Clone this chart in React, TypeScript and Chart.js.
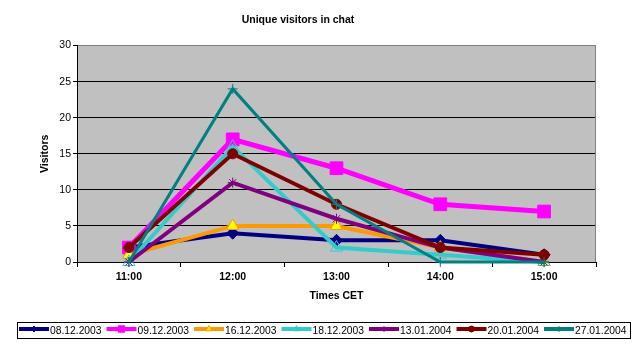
import React, { useEffect, useRef } from 'react';
import { Chart, registerables } from 'chart.js';
import { drawPoint } from 'chart.js/helpers';

Chart.register(...registerables);

const FONT = 'Arial, "Liberation Sans", sans-serif';

const categories = ['11:00', '12:00', '13:00', '14:00', '15:00'];
const yTicks = [0, 5, 10, 15, 20, 25, 30];

const seriesNames = ['08.12.2003', '09.12.2003', '16.12.2003', '18.12.2003', '13.01.2004', '20.01.2004', '27.01.2004'];
const v08122003 = [2, 4, 3, 3, 1];
const v09122003 = [2, 17, 13, 8, 7];
const v16122003 = [1, 5, 5, 2, 0];
const v18122003 = [0, 16, 2, 1, 0];
const v13012004 = [0, 11, 6, 2, 0];
const v20012004 = [2, 15, 8, 2, 1];
const v27012004 = [0, 24, 8, 0, 0];

const seriesValues = [v08122003, v09122003, v16122003, v18122003, v13012004, v20012004, v27012004];

const styles = [
  { line: '#000080', fill: '#000080', edge: '#000080', shape: 'rectRot', r: 6, w: 4 },
  { line: '#FF00FF', fill: '#FF00FF', edge: '#FF00FF', shape: 'rect', r: 9, w: 5 },
  { line: '#FF9900', fill: '#FFFF00', edge: '#FF9900', shape: 'triangle', r: 7, w: 4 },
  { line: '#33CCCC', fill: 'rgba(0,0,0,0)', edge: '#33CCCC', shape: 'triangle', r: 7, w: 4 },
  { line: '#800080', fill: '#800080', edge: '#800080', shape: 'star', r: 5, w: 4 },
  { line: '#800000', fill: '#800000', edge: '#800000', shape: 'circle', r: 5, w: 4 },
  { line: '#008080', fill: '#008080', edge: '#008080', shape: 'cross', r: 5, w: 3 },
];

const plotBgPlugin = {
  id: 'plotBg',
  beforeDraw(chart: any) {
    const { ctx, chartArea } = chart;
    ctx.save();
    ctx.fillStyle = '#C0C0C0';
    ctx.fillRect(chartArea.left, chartArea.top, chartArea.right - chartArea.left, chartArea.bottom - chartArea.top);
    ctx.restore();
  },
  beforeDatasetsDraw(chart: any) {
    const { ctx, chartArea } = chart;
    ctx.save();
    ctx.strokeStyle = '#808080';
    ctx.lineWidth = 1;
    ctx.beginPath();
    ctx.moveTo(Math.round(chartArea.right) - 0.5, chartArea.top);
    ctx.lineTo(Math.round(chartArea.right) - 0.5, chartArea.bottom);
    ctx.stroke();
    ctx.restore();
  },
};

const legendPlugin = {
  id: 'excelLegend',
  afterDraw(chart: any) {
    const ctx = chart.ctx;
    ctx.save();
    ctx.strokeStyle = '#000';
    ctx.lineWidth = 1;
    ctx.strokeRect(17.5, 322.5, 613, 16);
    chart.data.datasets.forEach((ds: any, i: number) => {
      const st = styles[i];
      const x0 = 19 + i * 87.5;
      const y = 329;
      ctx.strokeStyle = st.line;
      ctx.lineWidth = 4;
      ctx.beginPath();
      ctx.moveTo(x0, y);
      ctx.lineTo(x0 + 30, y);
      ctx.stroke();
      ctx.fillStyle = st.fill;
      ctx.strokeStyle = st.edge;
      ctx.lineWidth = 1;
      drawPoint(ctx, { pointStyle: st.shape, radius: Math.max(3, st.r * 0.5), rotation: 0, borderWidth: 1 } as any, x0 + 15, y);
      ctx.fillStyle = '#000';
      ctx.font = '10.3px ' + FONT;
      ctx.textBaseline = 'middle';
      ctx.textAlign = 'left';
      ctx.fillText(ds.label, x0 + 31, 331);
    });
    ctx.restore();
  },
};

export default function App() {
  const ref = useRef<HTMLCanvasElement>(null);
  useEffect(() => {
    document.body.style.margin = '0';
    const datasets = seriesNames.map((name, i) => {
      const st = styles[i];
      return {
        label: name,
        data: seriesValues[i],
        borderColor: st.line,
        backgroundColor: st.fill,
        borderWidth: st.w,
        pointStyle: st.shape,
        pointRadius: st.r,
        pointBackgroundColor: st.fill,
        pointBorderColor: st.edge,
        pointBorderWidth: 1,
        tension: 0,
        fill: false,
        clip: false,
        order: seriesNames.length - i,
      };
    });
    const chart = new Chart(ref.current!, {
      type: 'line',
      data: { labels: categories, datasets: datasets as any },
      options: {
        responsive: false,
        animation: false,
        devicePixelRatio: 1,
        layout: { padding: { left: 0, right: 40, top: 0, bottom: 46 } },
        plugins: {
          legend: { display: false },
          tooltip: { enabled: false },
          title: {
            display: true,
            text: 'Unique visitors in chat',
            color: '#000',
            font: { family: FONT, size: 10.5, weight: 'bold' },
            padding: { top: 14, bottom: 19 },
          },
        },
        scales: {
          x: {
            offset: true,
            ticks: { color: '#000', font: { family: FONT, size: 10.5, weight: 'bold' }, padding: 4 },
            grid: { offset: true, drawOnChartArea: false, drawTicks: true, tickLength: 5, color: '#000' },
            border: { color: '#000', width: 1 },
            title: {
              display: true,
              text: 'Times CET',
              color: '#000',
              font: { family: FONT, size: 10.5, weight: 'bold' },
              padding: { top: 0, bottom: 4 },
            },
            afterFit: (s: any) => { s.height = 44; },
          },
          y: {
            min: yTicks[0],
            max: yTicks[yTicks.length - 1],
            afterBuildTicks: (s: any) => { s.ticks = yTicks.map((v) => ({ value: v })); },
            ticks: { color: '#000', font: { family: FONT, size: 10.5 }, padding: 2 },
            grid: {
              color: (c: any) => (c.tick && c.tick.value === 30 ? '#808080' : '#000'),
              tickColor: '#000',
              tickLength: 4,
              lineWidth: 1,
            },
            border: { color: '#000', width: 1 },
            title: {
              display: true,
              text: 'Visitors',
              color: '#000',
              font: { family: FONT, size: 10.5, weight: 'bold' },
              padding: { top: 39, bottom: 0 },
            },
            afterFit: (s: any) => { s.width = 77; },
          },
        },
      },
      plugins: [plotBgPlugin, legendPlugin],
    });
    return () => chart.destroy();
  }, []);
  return (
    <div style={{ width: 636, height: 352, background: '#fff' }}>
      <canvas ref={ref} width={636} height={352} style={{ width: 636, height: 352, display: 'block' }} />
    </div>
  );
}
